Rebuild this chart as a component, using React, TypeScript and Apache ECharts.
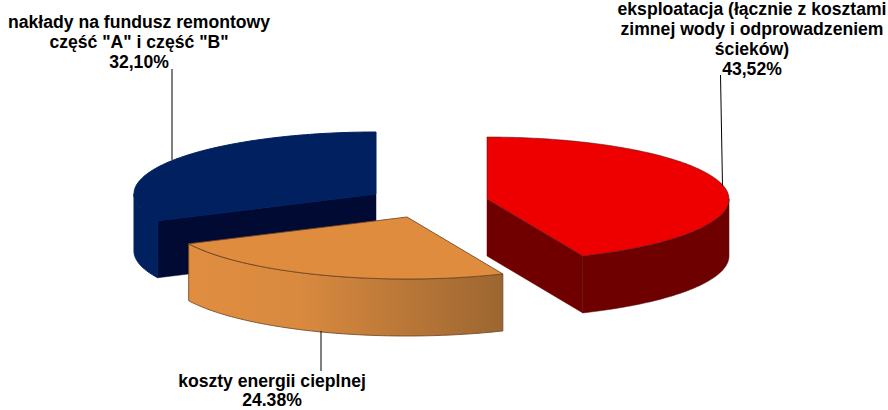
import React, { useEffect, useRef } from "react";
import * as echarts from "echarts";

// Expense shares, in drawing order (back slice first), clockwise from the blue slice.
const categories = [
  'nakłady na fundusz remontowy\nczęść "A" i część "B"\n32,10%',
  "eksploatacja (łącznie z kosztami\nzimnej wody i odprowadzeniem\nścieków)\n43,52%",
  "koszty energii cieplnej\n24.38%",
];
const shares = [32.1, 43.52, 24.38];

// Screen layout of the pseudo-3D pie.
const RX = 242;
const RY = 62;
const DEPTH = 57;
const apexes = [
  [376, 194],
  [487, 199],
  [407, 217],
];
const labelCentres = [
  [139, 42],
  [752, 39],
  [272, 390],
];
// The bottom label sits against the page edge, so its lines are set a little tighter.
const labelLineHeights = [20, 20, 19];
const leaders = [
  [172, 69, 172, 160],
  [720.5, 75, 722.5, 186],
  [321, 331, 321, 371],
];
const palette = [
  { top: "#002060", wall: "#002060", side: "#000a33", edge: "#002060" },
  { top: "#ee0000", wall: "#6e0000", side: "#700000", edge: "rgba(80,20,20,0.55)" },
  {
    top: "#e08c3f",
    wall: new echarts.graphic.LinearGradient(0, 0, 1, 0, [
      { offset: 0, color: "#e08d40" },
      { offset: 0.35, color: "#d98a3f" },
      { offset: 1, color: "#9c6631" },
    ]),
    side: "#9c6631",
    edge: "rgba(110,70,35,0.85)",
  },
];

const total = shares.reduce((a, b) => a + b, 0);
// The blue slice ends at twelve o'clock, so everything starts that far before it.
const firstAngle = -(shares[0] / total) * 360;

function rimPoint(cx: number, cy: number, deg: number): number[] {
  const r = (deg * Math.PI) / 180;
  return [cx + RX * Math.sin(r), cy - RY * Math.cos(r)];
}

function rimArc(cx: number, cy: number, from: number, to: number): number[][] {
  const pts: number[][] = [];
  const steps = Math.max(2, Math.ceil(Math.abs(to - from)));
  for (let i = 0; i <= steps; i++) {
    pts.push(rimPoint(cx, cy, from + ((to - from) * i) / steps));
  }
  return pts;
}

const drop = (pts: number[][]) => pts.map(([x, y]) => [x, y + DEPTH]);

function renderSlice(params: any, api: any) {
  const idx: number = params.dataIndex;
  const value: number = api.value(0);
  const before = shares.slice(0, idx).reduce((a, b) => a + b, 0);
  const a0 = firstAngle + (before / total) * 360;
  const a1 = a0 + (value / total) * 360;
  const [cx, cy] = apexes[idx];
  const c = palette[idx];
  const children: any[] = [];
  const edge = { stroke: c.edge, lineWidth: 1 };

  // Cut face at the clockwise end, visible when it turns towards the viewer.
  const endNorm = ((a1 % 360) + 360) % 360;
  if (endNorm > 90 && endNorm < 180) {
    const rim = rimPoint(cx, cy, a1);
    children.push({
      type: "polygon",
      shape: { points: [[cx, cy], rim, [rim[0], rim[1] + DEPTH], [cx, cy + DEPTH]] },
      style: { fill: c.side, stroke: c.side, lineWidth: 0.5 },
    });
  }
  // Cut face at the counter-clockwise start, visible on the left of the front half.
  const startNorm = ((a0 % 360) + 360) % 360;
  if (startNorm > 180 && startNorm < 270) {
    const rim = rimPoint(cx, cy, a0);
    children.push({
      type: "polygon",
      shape: { points: [[cx, cy], rim, [rim[0], rim[1] + DEPTH], [cx, cy + DEPTH]] },
      style: { fill: c.side, stroke: c.side, lineWidth: 0.5 },
    });
  }

  // Outer wall along the front half of the ellipse.
  const spans: number[][] = [];
  for (const shift of [-360, 0, 360]) {
    const from = Math.max(a0, 90 + shift);
    const to = Math.min(a1, 270 + shift);
    if (to > from) spans.push([from, to]);
  }
  spans.forEach(([from, to]) => {
    const arc = rimArc(cx, cy, from, to);
    children.push({
      type: "polygon",
      shape: { points: arc.concat(drop(arc).reverse()) },
      style: { fill: c.wall, ...edge },
    });
  });

  // Top face.
  children.push({
    type: "polygon",
    shape: { points: [[cx, cy], ...rimArc(cx, cy, a0, a1)] },
    style: { fill: c.top, ...edge },
  });

  // Leader line and label.
  const [x1, y1, x2, y2] = leaders[idx];
  children.push({
    type: "line",
    shape: { x1, y1, x2, y2 },
    style: { stroke: "#000000", lineWidth: 1 },
  });
  children.push({
    type: "text",
    style: {
      text: categories[idx],
      x: labelCentres[idx][0],
      y: labelCentres[idx][1],
      align: "center",
      verticalAlign: "middle",
      fill: "#000000",
      font: "bold 17.6px 'Liberation Sans'",
      lineHeight: labelLineHeights[idx],
    },
  });
  return { type: "group", children };
}

export default function App() {
  const ref = useRef<HTMLDivElement>(null);
  useEffect(() => {
    const chart = echarts.init(ref.current!, null, { renderer: "svg" });
    chart.setOption({
      animation: false,
      backgroundColor: "#ffffff",
      series: [
        {
          type: "custom",
          coordinateSystem: "none",
          renderItem: renderSlice,
          data: shares.map((v) => [v]),
          clip: false,
          silent: true,
        },
      ],
    });
    return () => chart.dispose();
  }, []);
  return (
    <div
      ref={ref}
      style={{ position: "absolute", left: 0, top: 0, width: 888, height: 410 }}
    />
  );
}
